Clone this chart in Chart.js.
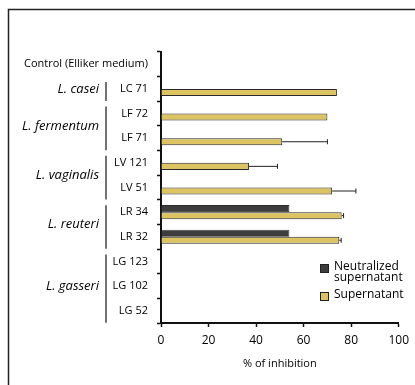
<!DOCTYPE html>
<html>
<head>
<meta charset="utf-8">
<script src="https://cdn.jsdelivr.net/npm/chart.js@4"></script>
<style>
  html, body { margin: 0; padding: 0; background: #fff; }
  #wrap { width: 415px; height: 385px; position: relative; }
</style>
</head>
<body>
<div id="wrap"><canvas id="inhibitionChart" width="415" height="385"></canvas></div>
<script>
// souches (catégories), de haut en bas
const strains = ["Control (Elliker medium)", "LC 71", "LF 72", "LF 71", "LV 121", "LV 51",
  "LR 34", "LR 32", "LG 123", "LG 102", "LG 52"];
// espèces : nom, première et dernière souche
const species = [
  ["L. casei", 1, 1],
  ["L. fermentum", 2, 3],
  ["L. vaginalis", 4, 5],
  ["L. reuteri", 6, 7],
  ["L. gasseri", 8, 10]
];
const neutralized = [null, null, null, null, null, null, 54, 54, null, null, null];
const supernatant = [null, 74, 70, 51, 37, 72, 76, 75, null, null, null];
const supernatantErr = [0, 0, 0, 19, 12, 10, 0.8, 0.8, 0, 0, 0];
const xTicks = [0, 20, 40, 60, 80, 100];

const FONT = "'Open Sans', 'Noto Sans', sans-serif";
const DARK = "#3d3d3d";
const GOLD = "#dcc462";

// Barres d'erreur, espèces, légende et cadre
const decorPlugin = {
  id: "decor",
  afterDatasetsDraw(chart) {
    const ctx = chart.ctx;
    const x = chart.scales.x;
    const meta = chart.getDatasetMeta(1);

    // barres d'erreur (côté droit)
    ctx.save();
    ctx.strokeStyle = "#222";
    ctx.lineWidth = 1;
    meta.data.forEach((bar, i) => {
      if (supernatant[i] == null || !supernatantErr[i]) return;
      const x0 = x.getPixelForValue(supernatant[i]);
      const x1 = x.getPixelForValue(supernatant[i] + supernatantErr[i]);
      ctx.beginPath();
      ctx.moveTo(x0, bar.y);
      ctx.lineTo(x1, bar.y);
      ctx.moveTo(x1, bar.y - 2.5);
      ctx.lineTo(x1, bar.y + 2.5);
      ctx.stroke();
    });
    ctx.restore();
  },
  afterDraw(chart) {
    const ctx = chart.ctx;
    const y = chart.scales.y;
    ctx.save();

    // noms d'espèces + crochets
    ctx.font = "italic 13px " + FONT;
    ctx.fillStyle = "#000";
    ctx.textAlign = "right";
    ctx.textBaseline = "middle";
    species.forEach(([name, a, b]) => {
      const ya = y.getPixelForValue(a);
      const yb = y.getPixelForValue(b);
      ctx.fillText(name, 99, (ya + yb) / 2);
      ctx.strokeStyle = "#444";
      ctx.lineWidth = 1.5;
      ctx.beginPath();
      ctx.moveTo(106, ya - 7);
      ctx.lineTo(106, yb + 12);
      ctx.stroke();
    });

    // légende
    const items = [
      [DARK, ["Neutralized", "supernatant"], 264],
      [GOLD, ["Supernatant"], 292]
    ];
    ctx.font = "12px " + FONT;
    ctx.textAlign = "left";
    ctx.textBaseline = "middle";
    items.forEach(([col, lines, top]) => {
      ctx.fillStyle = col;
      ctx.fillRect(320, top, 8, 8);
      ctx.strokeStyle = "#222";
      ctx.lineWidth = 1;
      ctx.strokeRect(320.5, top + 0.5, 8, 8);
      ctx.fillStyle = "#000";
      lines.forEach((t, k) => ctx.fillText(t, 334, top + 3 + k * 10.5));
    });

    // cadre
    ctx.strokeStyle = "#222";
    ctx.lineWidth = 1.5;
    ctx.beginPath();
    ctx.moveTo(8.5, 385);
    ctx.lineTo(8.5, 9.5);
    ctx.lineTo(415, 9.5);
    ctx.stroke();
    ctx.restore();
  }
};

new Chart(document.getElementById("inhibitionChart"), {
  type: "bar",
  data: {
    labels: strains,
    datasets: [
      {
        label: "Neutralized supernatant",
        data: neutralized,
        backgroundColor: DARK,
        borderColor: "#2a2a2a",
        borderWidth: 0.8
      },
      {
        label: "Supernatant",
        data: supernatant,
        backgroundColor: GOLD,
        borderColor: "#2a2a2a",
        borderWidth: 1
      }
    ]
  },
  options: {
    indexAxis: "y",
    responsive: false,
    animation: false,
    categoryPercentage: 0.57,
    barPercentage: 1.0,
    layout: { padding: { left: 0, top: 52, right: 16, bottom: 15 } },
    plugins: {
      legend: { display: false },
      tooltip: { enabled: false }
    },
    scales: {
      x: {
        min: 0,
        max: 100,
        afterBuildTicks: s => { s.ticks = xTicks.map(v => ({ value: v })); },
        afterFit: s => { s.height = 47; },
        border: { color: "#111", width: 2 },
        grid: { drawOnChartArea: false, tickLength: 4, color: "#111", tickWidth: 1.5 },
        ticks: { color: "#000", padding: 6, font: { family: FONT, size: 12 } },
        title: {
          display: true,
          text: "% of inhibition",
          color: "#000",
          padding: { top: 6, bottom: 0 },
          font: { family: FONT, size: 11 }
        }
      },
      y: {
        afterFit: s => { s.width = 161; },
        border: { color: "#111", width: 2 },
        grid: { drawOnChartArea: false, offset: true, tickLength: 4, color: "#111", tickWidth: 1.5 },
        ticks: { color: "#000", padding: 9, autoSkip: false, font: { family: FONT, size: 11 } }
      }
    }
  },
  plugins: [decorPlugin]
});
</script>
</body>
</html>
